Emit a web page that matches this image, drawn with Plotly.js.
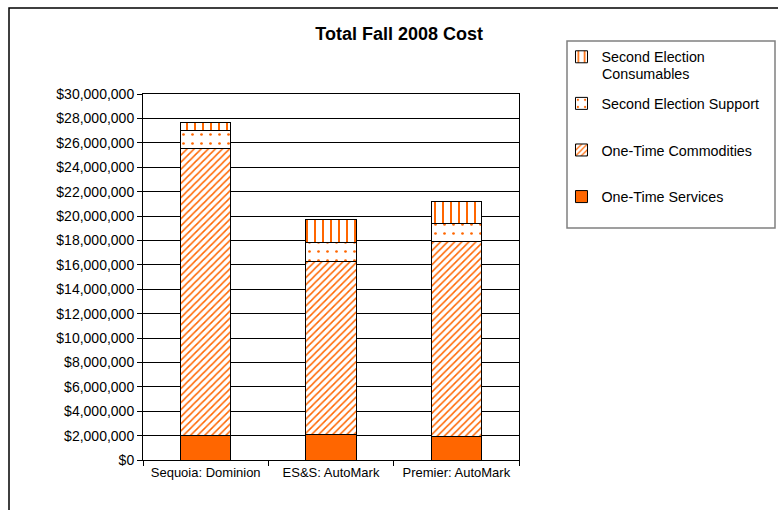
<!DOCTYPE html>
<html>
<head>
<meta charset="utf-8">
<script src="https://cdn.plot.ly/plotly-3.0.1.min.js"></script>
<style>html,body{margin:0;padding:0;background:#fff;}#chart{width:778px;height:510px;}</style>
</head>
<body>
<div id="chart"></div>
<script>
var categories = ["Sequoia: Dominion", "ES&S: AutoMark", "Premier: AutoMark"];
var oneTimeServices = [2000000, 2100000, 1950000];
var oneTimeCommodities = [23550000, 14200000, 15950000];
var secondElectionSupport = [1450000, 1500000, 1450000];
var secondElectionConsumables = [650000, 1900000, 1850000];
var seriesNames = ["One-Time Services", "One-Time Commodities", "Second Election Support", "Second Election", "Consumables"];
var tickVals = [0,2e6,4e6,6e6,8e6,10e6,12e6,14e6,16e6,18e6,20e6,22e6,24e6,26e6,28e6,30e6];

var orange = "#FF6600";
var line = {color: "#000000", width: 1};

var traces = [
  {name: seriesNames[0], y: oneTimeServices, legendrank: 4,
   marker: {color: orange, line: line}},
  {name: seriesNames[1], y: oneTimeCommodities, legendrank: 3,
   marker: {color: "#ffffff", line: line, pattern: {shape: "/", fgcolor: orange, bgcolor: "#ffffff", size: 5, solidity: 0.3}}},
  {name: seriesNames[2], y: secondElectionSupport, legendrank: 2,
   marker: {color: "#ffffff", line: line, pattern: {shape: ".", fgcolor: orange, bgcolor: "#ffffff", size: 9, solidity: 0.07}}},
  {name: seriesNames[3], y: secondElectionConsumables, legendrank: 1,
   marker: {color: "#ffffff", line: line, pattern: {shape: "|", fgcolor: orange, bgcolor: "#ffffff", size: 8, solidity: 0.25}}}
].map(function(t, i){
  return Object.assign({type: "bar", x: categories, legendgroup: "g" + i, hoverinfo: "skip"}, t);
});

var layout = {
  width: 778, height: 510,
  margin: {l: 143, r: 259, t: 94, b: 50},
  paper_bgcolor: "#ffffff", plot_bgcolor: "#ffffff",
  font: {family: "Liberation Sans, Arial, sans-serif", size: 13, color: "#000"},
  barmode: "stack", bargap: 0.6,
  title: {text: "<b>Total Fall 2008 Cost</b>", x: 0.513, xanchor: "center", y: 0.933, yanchor: "middle",
          font: {size: 18, color: "#000"}},
  xaxis: {showline: true, linecolor: "#000", linewidth: 1, mirror: true, ticks: "outside", ticklen: 5,
          tickcolor: "#000", tickson: "boundaries", showgrid: false, tickfont: {size: 13}, fixedrange: true},
  yaxis: {range: [0, 30000000], tickvals: tickVals, tickformat: "$,.0f", showline: true, linecolor: "#000",
          mirror: true, ticks: "outside", ticklen: 5, tickcolor: "#000", showgrid: true, gridcolor: "#000",
          gridwidth: 1, zeroline: false, tickfont: {size: 14}, fixedrange: true},
  showlegend: true,
  legend: {x: 1.113, xanchor: "left", y: (460 - 41) / 366, yanchor: "top", traceorder: "grouped",
           tracegroupgap: 25, bgcolor: "rgba(0,0,0,0)", borderwidth: 0, font: {size: 14.3},
           itemclick: false, itemdoubleclick: false},
  annotations: [
    {text: seriesNames[4], xref: "paper", yref: "paper", x: (600 - 143) / 376, y: (460 - 74) / 366,
     xanchor: "left", yanchor: "middle", showarrow: false, font: {size: 14.3, color: "#000"}}
  ],
  shapes: [
    {type: "rect", xref: "paper", yref: "paper",
     x0: (567 - 143) / 376, x1: (775 - 143) / 376, y0: (460 - 228) / 366, y1: (460 - 41) / 366,
     line: {color: "#808080", width: 1.5}, fillcolor: "rgba(0,0,0,0)"},
    {type: "rect", xref: "paper", yref: "paper",
     x0: (9 - 143) / 376, x1: (800 - 143) / 376, y0: (460 - 520) / 366, y1: (460 - 8) / 366,
     line: {color: "#000", width: 1.5}, fillcolor: "rgba(0,0,0,0)"}
  ]
};

Plotly.newPlot("chart", traces, layout, {displayModeBar: false, staticPlot: true});
</script>
</body>
</html>
